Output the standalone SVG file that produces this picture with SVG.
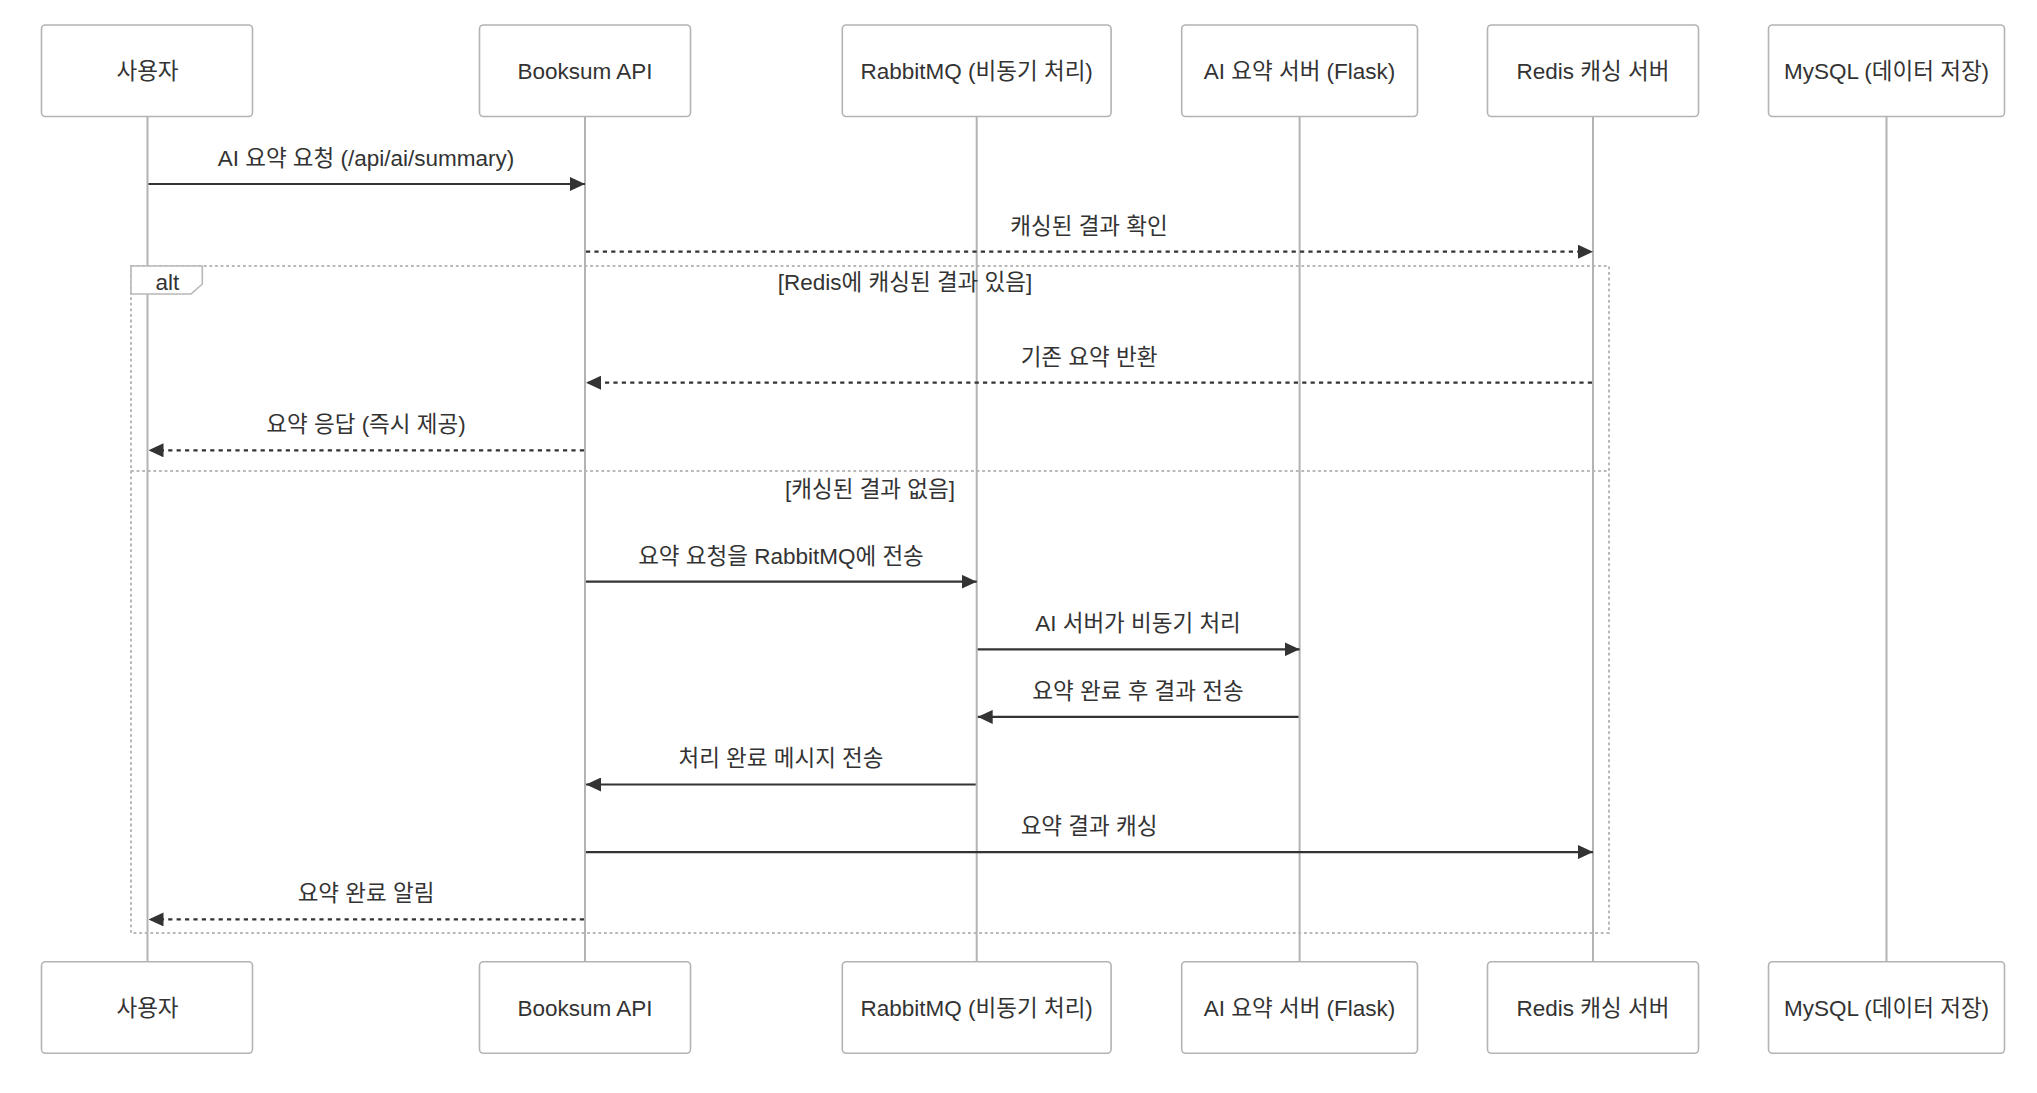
<svg xmlns="http://www.w3.org/2000/svg" width="2037" height="1093" viewBox="0 0 2037 1093">
<style>
  text { font-family: "Liberation Sans", Arial, "Noto Sans CJK KR", sans-serif; fill: #333; }
  .actor rect { fill: #ffffff; stroke: #b3b3b3; stroke-width: 1.6; }
  .actor text { font-size: 22.5px; text-anchor: middle; }
  .lifeline { stroke: #b3b3b3; stroke-width: 2; }
  .msg { stroke: #333; stroke-width: 2.2; fill: none; }
  .dashed { stroke-dasharray: 4.2 4.2; }
  .msgtext { font-size: 22.5px; text-anchor: middle; }
  .loop { stroke: #b8b8b8; stroke-width: 2; stroke-dasharray: 2.8 2.8; fill: none; }
  .looplabel { fill: #ffffff; stroke: #b8b8b8; stroke-width: 1.6; }
  .sect { font-size: 22.5px; text-anchor: middle; }
</style>
<defs>
  <marker id="arrow" viewBox="0 0 15 14" refX="15" refY="7" markerWidth="15" markerHeight="14" markerUnits="userSpaceOnUse" orient="auto">
    <path d="M0,0 L15,7 L0,14 z" fill="#333"/>
  </marker>
</defs>
<rect width="2037" height="1093" fill="#ffffff"/>

<g id="lifelines">
  <line class="lifeline" x1="147.5" y1="116.5" x2="147.5" y2="961.7"/>
  <line class="lifeline" x1="585" y1="116.5" x2="585" y2="961.7"/>
  <line class="lifeline" x1="976.7" y1="116.5" x2="976.7" y2="961.7"/>
  <line class="lifeline" x1="1299.6" y1="116.5" x2="1299.6" y2="961.7"/>
  <line class="lifeline" x1="1593" y1="116.5" x2="1593" y2="961.7"/>
  <line class="lifeline" x1="1886.5" y1="116.5" x2="1886.5" y2="961.7"/>
</g>

<g id="alt-block">
  <rect class="loop" x="131" y="266" width="1478" height="667"/>
  <line class="loop" x1="131" y1="471" x2="1609" y2="471"/>
  <polygon class="looplabel" points="131,266 202.3,266 202.3,284 191,294 131,294"/>
  <text x="167.5" y="289.5" style="font-size:22.5px;text-anchor:middle">alt</text>
  <text class="sect" x="905" y="289.5">[Redis에 캐싱된 결과 있음]</text>
  <text class="sect" x="870" y="496.5">[캐싱된 결과 없음]</text>
</g>

<g id="actor-user-top" class="actor"><rect x="41.5" y="25" width="211" height="91.5" rx="4"/><text x="147.5" y="79">사용자</text></g>
<g id="actor-api-top" class="actor"><rect x="479.5" y="25" width="211" height="91.5" rx="4"/><text x="585" y="79">Booksum API</text></g>
<g id="actor-mq-top" class="actor"><rect x="842.3" y="25" width="268.8" height="91.5" rx="4"/><text x="976.7" y="79">RabbitMQ (비동기 처리)</text></g>
<g id="actor-ai-top" class="actor"><rect x="1181.7" y="25" width="235.8" height="91.5" rx="4"/><text x="1299.6" y="79">AI 요약 서버 (Flask)</text></g>
<g id="actor-redis-top" class="actor"><rect x="1487.5" y="25" width="211" height="91.5" rx="4"/><text x="1593" y="79">Redis 캐싱 서버</text></g>
<g id="actor-mysql-top" class="actor"><rect x="1768.5" y="25" width="236" height="91.5" rx="4"/><text x="1886.5" y="79">MySQL (데이터 저장)</text></g>

<g id="actor-user-bottom" class="actor"><rect x="41.5" y="961.7" width="211" height="91.6" rx="4"/><text x="147.5" y="1015.5">사용자</text></g>
<g id="actor-api-bottom" class="actor"><rect x="479.5" y="961.7" width="211" height="91.6" rx="4"/><text x="585" y="1015.5">Booksum API</text></g>
<g id="actor-mq-bottom" class="actor"><rect x="842.3" y="961.7" width="268.8" height="91.6" rx="4"/><text x="976.7" y="1015.5">RabbitMQ (비동기 처리)</text></g>
<g id="actor-ai-bottom" class="actor"><rect x="1181.7" y="961.7" width="235.8" height="91.6" rx="4"/><text x="1299.6" y="1015.5">AI 요약 서버 (Flask)</text></g>
<g id="actor-redis-bottom" class="actor"><rect x="1487.5" y="961.7" width="211" height="91.6" rx="4"/><text x="1593" y="1015.5">Redis 캐싱 서버</text></g>
<g id="actor-mysql-bottom" class="actor"><rect x="1768.5" y="961.7" width="236" height="91.6" rx="4"/><text x="1886.5" y="1015.5">MySQL (데이터 저장)</text></g>

<g id="connectors">
  <line class="msg" x1="148.5" y1="184" x2="585" y2="184" marker-end="url(#arrow)"/>
  <text class="msgtext" x="366" y="165.7">AI 요약 요청 (/api/ai/summary)</text>

  <line class="msg dashed" x1="586" y1="251.7" x2="1593" y2="251.7" marker-end="url(#arrow)"/>
  <text class="msgtext" x="1089" y="233.5">캐싱된 결과 확인</text>

  <line class="msg dashed" x1="1592" y1="382.7" x2="586" y2="382.7" marker-end="url(#arrow)"/>
  <text class="msgtext" x="1089" y="364.5">기존 요약 반환</text>

  <line class="msg dashed" x1="584" y1="450.3" x2="148.5" y2="450.3" marker-end="url(#arrow)"/>
  <text class="msgtext" x="366" y="432">요약 응답 (즉시 제공)</text>

  <line class="msg" x1="586" y1="581.7" x2="976.7" y2="581.7" marker-end="url(#arrow)"/>
  <text class="msgtext" x="781" y="563.5">요약 요청을 RabbitMQ에 전송</text>

  <line class="msg" x1="977.7" y1="649.3" x2="1299.6" y2="649.3" marker-end="url(#arrow)"/>
  <text class="msgtext" x="1138" y="631">AI 서버가 비동기 처리</text>

  <line class="msg" x1="1298.6" y1="716.9" x2="977.7" y2="716.9" marker-end="url(#arrow)"/>
  <text class="msgtext" x="1138" y="698.6">요약 완료 후 결과 전송</text>

  <line class="msg" x1="975.7" y1="784.5" x2="586" y2="784.5" marker-end="url(#arrow)"/>
  <text class="msgtext" x="781" y="766.2">처리 완료 메시지 전송</text>

  <line class="msg" x1="586" y1="852.1" x2="1593" y2="852.1" marker-end="url(#arrow)"/>
  <text class="msgtext" x="1089" y="833.8">요약 결과 캐싱</text>

  <line class="msg dashed" x1="584" y1="919.4" x2="148.5" y2="919.4" marker-end="url(#arrow)"/>
  <text class="msgtext" x="366" y="901.1">요약 완료 알림</text>
</g>
</svg>
